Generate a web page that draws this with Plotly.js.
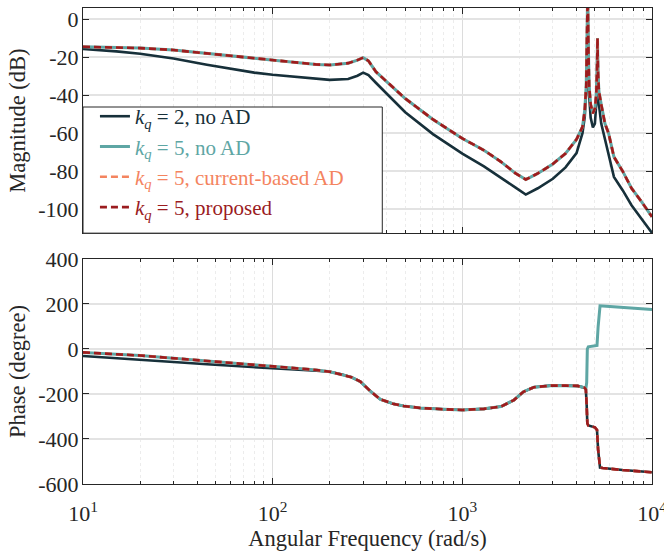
<!DOCTYPE html>
<html>
<head>
<meta charset="utf-8">
<script src="https://cdn.plot.ly/plotly-3.0.1.min.js"></script>
<style>html,body{margin:0;padding:0;background:#fff;}#chart{width:664px;height:553px;}</style>
</head>
<body>
<div id="chart"></div>
<script>
// ---- data ----
var freqMag = [10, 15, 20, 30, 45, 60, 80, 100, 130, 170, 200, 250, 280, 300, 320, 350, 400, 500, 700, 1000, 1300, 1600, 1900, 2160, 2500, 3000, 3500, 4000, 4300, 4420, 4500, 4550, 4580, 4610, 4660, 4750, 4880, 5000, 5080, 5130, 5160, 5190, 5250, 5400, 5650, 5900, 6300, 7000, 7800, 8800, 10000];
var magK2 = [-15.8, -17, -18.3, -20.8, -24, -26, -28.2, -29.3, -30.3, -31.5, -32, -31.5, -29.8, -28.2, -29.5, -33.5, -39.5, -49, -60.5, -70.8, -77.5, -83.3, -88.5, -92.3, -89, -84, -78, -70.5, -60, -51.4, -38, -15, 10, -15, -40, -52, -57, -55, -45, -30, -10, -30, -45, -55, -63.7, -72, -83, -90, -97.9, -105, -112.5];
var magK5 = [-14.6, -14.9, -15.3, -16.3, -18.1, -19.3, -20.7, -21.6, -23, -23.9, -24.2, -23.2, -21.6, -20.3, -22, -27.7, -33, -41.8, -52.8, -62.8, -69, -75.1, -81, -84.4, -81.2, -76.2, -70.7, -63.3, -56.7, -48, -35, -10, 15, -10, -35, -45, -49.6, -47, -40, -28, -10, -28, -38, -45, -55, -60, -72.5, -80, -89, -96, -104];

var freqPh = [10, 15, 20, 30, 45, 60, 80, 100, 130, 170, 200, 230, 260, 290, 330, 370, 430, 490, 600, 800, 1000, 1300, 1600, 1870, 2100, 2380, 2900, 3500, 4050, 4400, 4480, 4525, 4560, 4615, 4700, 5000, 5129, 5200, 5321, 5500, 7000, 10000];
var phK2 = [-31, -40, -48, -58, -68, -75, -81, -86, -91, -96, -101, -112, -125, -145, -190, -224, -243, -253, -262, -268, -271, -266, -256, -227, -190, -170, -163, -163, -164, -172, -180, -250, -330, -340, -342, -348, -360, -450, -527, -529, -538, -548];
var phK5NoAD = [-15, -23, -29, -41, -53, -60, -68, -74, -83, -93, -101, -112, -125, -145, -190, -224, -243, -253, -262, -268, -271, -266, -256, -227, -190, -170, -163, -163, -164, -172, -176, -150, 0, 10, 11, 14, 16, 100, 192, 191, 184, 176];
var phK5AD = [-15, -23, -29, -41, -53, -60, -68, -74, -83, -93, -101, -112, -125, -145, -190, -224, -243, -253, -262, -268, -271, -266, -256, -227, -190, -170, -163, -163, -164, -172, -180, -250, -330, -340, -342, -348, -360, -450, -527, -529, -538, -548];

var seriesNames = ['k_q = 2, no AD', 'k_q = 5, no AD', 'k_q = 5, current-based AD', 'k_q = 5, proposed'];
var magTickVals = [0, -20, -40, -60, -80, -100];
var magTickText = ['0', '-20', '-40', '-60', '-80', '-100'];
var phTickVals = [400, 200, 0, -200, -400, -600];
var phTickText = ['400', '200', '0', '-200', '-400', '-600'];
var xTickVals = [10, 100, 1000, 10000];
var xTickText = ['10<sup>1</sup>', '10<sup>2</sup>', '10<sup>3</sup>', '10<sup>4</sup>'];

// ---- styling ----
var cNavy = '#17303a', cTeal = '#5ea6a4', cOrange = '#f4845f', cRed = '#9b1c1f';
function legName(i, col) {
  var parts = seriesNames[i].split(' = ');
  return '<span style="color:' + col + '"><i>k</i><sub><i>q</i></sub> = ' + parts[1] + '</span>';
}
var dashPat = '7px,4px';
var traces = [
  {x: freqMag, y: magK2, xaxis: 'x', yaxis: 'y', mode: 'lines', line: {color: cNavy, width: 2.6}, name: legName(0, cNavy)},
  {x: freqMag, y: magK5, xaxis: 'x', yaxis: 'y', mode: 'lines', line: {color: cTeal, width: 3}, name: legName(1, cTeal)},
  {x: freqMag, y: magK5, xaxis: 'x', yaxis: 'y', mode: 'lines', line: {color: cOrange, width: 2.6, dash: dashPat}, name: legName(2, cOrange)},
  {x: freqMag, y: magK5, xaxis: 'x', yaxis: 'y', mode: 'lines', line: {color: cRed, width: 2.6, dash: dashPat}, name: legName(3, cRed)},
  {x: freqPh, y: phK2, xaxis: 'x2', yaxis: 'y2', mode: 'lines', line: {color: cNavy, width: 2.6}, showlegend: false},
  {x: freqPh, y: phK5NoAD, xaxis: 'x2', yaxis: 'y2', mode: 'lines', line: {color: cTeal, width: 3}, showlegend: false},
  {x: freqPh, y: phK5AD, xaxis: 'x2', yaxis: 'y2', mode: 'lines', line: {color: cOrange, width: 2.6, dash: dashPat}, showlegend: false},
  {x: freqPh, y: phK5AD, xaxis: 'x2', yaxis: 'y2', mode: 'lines', line: {color: cRed, width: 2.6, dash: dashPat}, showlegend: false}
];

var fontFam = 'Liberation Serif';
var axCol = '#262626';
function xAxis(anchor, labels) {
  return {
    type: 'log', range: [1, 4], anchor: anchor,
    tickmode: 'array', tickvals: xTickVals, ticktext: xTickText,
    showticklabels: labels, ticklabeloverflow: 'allow',
    ticks: 'inside', ticklen: 6, tickcolor: axCol,
    showline: true, linecolor: axCol, linewidth: 1, mirror: 'allticks',
    showgrid: true, gridcolor: '#dcdcdc', gridwidth: 1,
    minor: {dtick: 'D1', ticks: 'inside', ticklen: 3, tickcolor: axCol, showgrid: true, gridcolor: '#ececec', griddash: 'dot', gridwidth: 1},
    tickfont: {size: 22, color: axCol, family: fontFam},
    zeroline: false
  };
}
var layout = {
  width: 664, height: 553,
  margin: {l: 83, r: 12, t: 8, b: 69},
  paper_bgcolor: '#ffffff', plot_bgcolor: '#ffffff',
  font: {family: fontFam, color: axCol, size: 22},
  showlegend: true,
  xaxis: Object.assign(xAxis('y', false), {domain: [0, 1]}),
  xaxis2: Object.assign(xAxis('y2', true), {domain: [0, 1], matches: 'x', ticklabelstandoff: 10,
    title: {text: 'Angular Frequency (rad/s)', font: {size: 22.5, family: fontFam, color: axCol}, standoff: 3}}),
  yaxis: {
    domain: [0.527, 1], range: [-112.6, 5.8], anchor: 'x',
    tickmode: 'array', tickvals: magTickVals, ticktext: magTickText,
    ticks: 'inside', ticklen: 6, tickcolor: axCol, ticklabelstandoff: -1,
    showline: true, linecolor: axCol, linewidth: 1, mirror: 'allticks',
    showgrid: true, gridcolor: '#e3e3e3', gridwidth: 1.5, zeroline: false,
    tickfont: {size: 22, color: axCol, family: fontFam},
    title: {text: 'Magnitude (dB)', font: {size: 22.5, family: fontFam, color: axCol}, standoff: 6}
  },
  yaxis2: {
    domain: [0, 0.4727], range: [-600, 400], anchor: 'x2',
    tickmode: 'array', tickvals: phTickVals, ticktext: phTickText,
    ticks: 'inside', ticklen: 6, tickcolor: axCol, ticklabelstandoff: -1,
    showline: true, linecolor: axCol, linewidth: 1, mirror: 'allticks',
    showgrid: true, gridcolor: '#e3e3e3', gridwidth: 1.5, zeroline: false,
    tickfont: {size: 22, color: axCol, family: fontFam},
    title: {text: 'Phase (degree)', font: {size: 22.5, family: fontFam, color: axCol}, standoff: 6}
  },
  legend: {
    x: 0.021, xanchor: 'left', y: 0.815, yanchor: 'top',
    bgcolor: 'rgba(0,0,0,0)', borderwidth: 0,
    font: {size: 21, family: fontFam, color: axCol},
    itemwidth: 30, tracegroupgap: 0
  },
  shapes: [
    {type: 'rect', xref: 'paper', yref: 'paper', x0: 0, x1: 0.526, y0: 0.527, y1: 0.792,
     fillcolor: '#ffffff', line: {color: '#262626', width: 1}, layer: 'above'}
  ]
};
Plotly.newPlot('chart', traces, layout, {displayModeBar: false, staticPlot: true});
</script>
</body>
</html>
